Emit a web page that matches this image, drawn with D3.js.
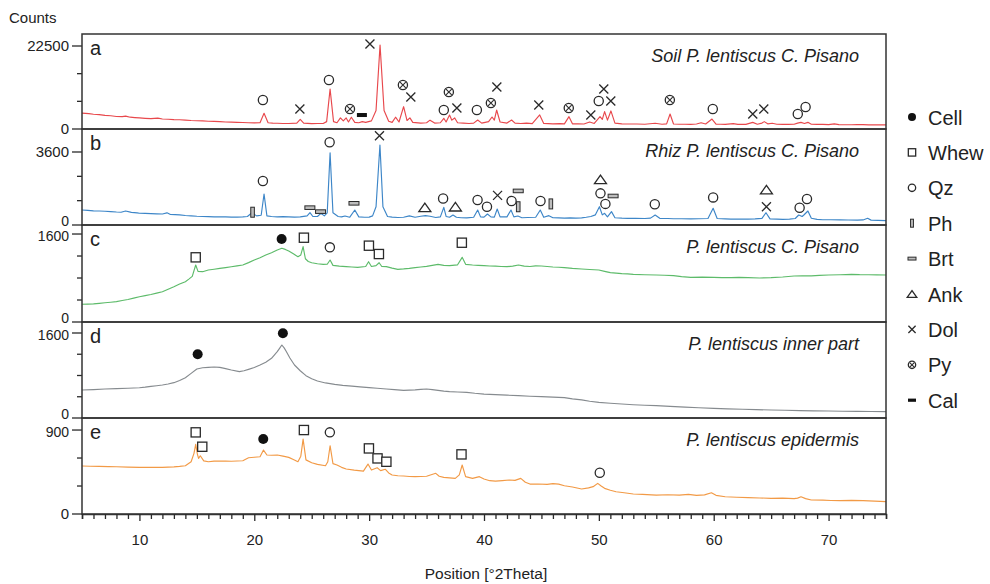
<!DOCTYPE html>
<html><head><meta charset="utf-8">
<script src="https://cdn.jsdelivr.net/npm/d3@7"></script>
<style>body{margin:0;background:#fff}svg{display:block;font-family:"Liberation Sans",Arial,sans-serif}</style>
</head><body><svg id="c" width="990" height="584"></svg>
<script>
// ---------------- DATA ----------------
const xTicks = [10, 20, 30, 40, 50, 60, 70];
const panelLetters = ["a", "b", "c", "d", "e"];
const panelTitles = ["Soil P. lentiscus C. Pisano", "Rhiz P. lentiscus C. Pisano", "P. lentiscus C. Pisano", "P. lentiscus inner part", "P. lentiscus epidermis"];
const yLabelTicks = [[0, 22500], [0, 3600], [0, 1600], [0, 1600], [0, 900]];
const yMinorStep = [7500, 1200, 400, 400, 300];
const legendNames = ["Cell", "Whew", "Qz", "Ph", "Brt", "Ank", "Dol", "Py", "Cal"];

// [2theta, counts]
const soil = [[5,4300],[5.3,4250],[5.6,4150],[6,4000],[6.5,3900],[7,3700],[7.5,3600],[8,3400],[8.5,3350],[8.8,3500],[9.2,3200],[9.6,3100],[10,3000],[10.5,2900],[11,2800],[11.6,2950],[12,2700],[12.5,2650],[13,2550],[13.5,2500],[14,2400],[14.5,2300],[15,2250],[15.5,2200],[16,2100],[16.5,2050],[17,2000],[17.5,1900],[18,1850],[18.5,1800],[19,1750],[19.5,1700],[20,1650],[20.5,1700],[20.85,4250],[21.2,1700],[21.6,1600],[22,1550],[22.5,1500],[23,1500],[23.7,1600],[24.0,2600],[24.3,1600],[25,1450],[25.5,1500],[26,1500],[26.3,2000],[26.6,10850],[26.9,2000],[27.2,1700],[27.5,3000],[27.75,2200],[28.0,3000],[28.2,1900],[28.45,3200],[28.75,1800],[29.1,1700],[29.4,2000],[29.7,1800],[30.2,2200],[30.6,5000],[30.95,22760],[31.3,5000],[31.7,2100],[32.0,1800],[32.3,3200],[32.6,1900],[33.0,6050],[33.3,2300],[33.55,3000],[33.8,1800],[34.5,1600],[35.0,1700],[35.3,2400],[35.7,1600],[36.2,1700],[36.5,2900],[36.7,1900],[37.0,3800],[37.2,2400],[37.45,3000],[37.7,1700],[38.2,1600],[38.7,1500],[39.1,1600],[39.45,2440],[39.8,1600],[40.4,2000],[40.7,3250],[40.9,2400],[41.1,5150],[41.4,1900],[42.0,1600],[42.4,2440],[42.7,1600],[43.2,1500],[43.7,1600],[44.2,1450],[44.85,3800],[45.2,1500],[45.6,1450],[46,1400],[46.6,1450],[47.0,1400],[47.4,3350],[47.7,1400],[48.2,1400],[48.7,1350],[49.2,1900],[49.6,1500],[50.1,3350],[50.3,2600],[50.5,4700],[50.75,2400],[51.05,4900],[51.4,1600],[52,1400],[52.6,1350],[53.3,1350],[54.0,1300],[54.9,1550],[55.5,1300],[55.9,1400],[56.2,4070],[56.5,1350],[57.0,1300],[57.5,1300],[58.0,1250],[58.5,1350],[58.9,1700],[59.3,1350],[59.85,2700],[60.2,1300],[60.6,1280],[61.0,1250],[61.7,1450],[62.1,1250],[62.8,1250],[63.4,1800],[63.8,1300],[64.2,1600],[64.4,2000],[64.7,1400],[65.1,1550],[65.5,1300],[66.0,1250],[66.5,1250],[67.0,1300],[67.3,1600],[67.6,1800],[67.9,1500],[68.2,1800],[68.5,1300],[69.0,1250],[69.5,1250],[70.0,1200],[70.5,1400],[70.9,1200],[71.5,1150],[72,1150],[72.5,1180],[73,1200],[73.5,1120],[74,1100],[74.5,1130],[75,1100]];

const rhiz = [[5,740],[5.5,720],[6,700],[6.5,690],[7,680],[7.5,660],[8,640],[8.4,630],[8.8,690],[9.3,620],[9.8,600],[10,580],[10.5,570],[11,560],[11.5,550],[12,540],[12.4,600],[12.7,520],[13.1,510],[13.5,500],[14,470],[14.5,450],[15,430],[15.5,420],[16,410],[16.5,400],[17,405],[17.5,400],[18,390],[18.5,390],[19,400],[19.4,420],[19.8,606],[20.2,450],[20.6,480],[20.85,1530],[21.1,450],[21.5,420],[22,400],[22.5,410],[23,400],[23.5,390],[24,400],[24.6,450],[24.85,606],[25.1,420],[25.5,420],[25.8,577],[26.1,450],[26.35,600],[26.6,3565],[26.85,600],[27.3,420],[27.6,400],[27.9,444],[28.3,380],[28.75,740],[29.1,400],[29.6,380],[30.0,390],[30.3,450],[30.6,900],[30.94,3944],[31.2,900],[31.6,420],[32.0,390],[32.5,370],[33.0,380],[33.5,450],[34.0,380],[34.5,430],[34.9,460],[35.3,430],[35.8,370],[36.2,400],[36.5,870],[36.7,420],[37.0,380],[37.3,493],[37.6,380],[38.0,360],[38.5,350],[39.1,380],[39.45,740],[39.7,400],[40.0,390],[40.3,542],[40.6,400],[40.9,390],[41.15,790],[41.4,400],[42.0,400],[42.35,740],[42.6,400],[42.95,444],[43.3,360],[43.8,370],[44.5,380],[44.9,740],[45.2,380],[45.65,460],[46,360],[46.5,350],[47,340],[47.5,350],[48,340],[48.5,350],[48.9,380],[49.3,420],[49.7,500],[50.05,903],[50.3,500],[50.5,577],[50.75,400],[51.1,660],[51.4,360],[52,340],[52.5,330],[53.2,330],[54,320],[54.5,340],[54.9,493],[55.3,330],[56,320],[56.5,310],[57.2,310],[58,300],[58.7,310],[59.5,320],[59.95,822],[60.3,320],[61,300],[61.5,290],[62.2,295],[63,290],[63.6,300],[64.2,330],[64.55,606],[64.9,300],[65.5,290],[66,280],[66.6,290],[67.1,320],[67.4,493],[67.7,420],[67.85,493],[68.2,690],[68.5,330],[69,280],[69.5,260],[70.2,260],[71,250],[71.7,245],[72.5,240],[73.0,250],[73.4,330],[73.7,240],[74.3,230],[75,215]];

const plant = [[5,322],[5.5,325],[6,330],[6.5,340],[7,350],[7.5,360],[8,370],[8.5,390],[9,410],[9.5,435],[10,460],[10.5,480],[11,500],[11.5,525],[12,551],[12.5,595],[13,640],[13.5,690],[14,733],[14.3,780],[14.6,830],[14.9,1036],[15.1,920],[15.5,915],[16,945],[16.5,960],[17,975],[17.5,990],[18,1005],[18.5,1020],[19,1036],[19.5,1080],[20,1127],[20.5,1170],[21,1218],[21.5,1260],[22,1309],[22.4,1340],[22.7,1320],[23,1290],[23.4,1240],[23.8,1187],[24.05,1220],[24.25,1370],[24.45,1150],[24.7,1100],[25,1078],[25.5,1060],[26,1048],[26.35,1050],[26.6,1127],[26.85,1030],[27.4,1015],[28,1006],[28.5,1000],[29,994],[29.7,1010],[29.95,1097],[30.2,1010],[30.6,1024],[30.87,1078],[31.1,1010],[31.5,1006],[32,980],[32.5,958],[33,965],[33.5,975],[34,988],[34.5,1000],[35,1012],[35.5,1030],[36,1048],[36.5,1030],[37,1024],[37.7,1040],[38.1,1176],[38.4,1048],[39,1036],[39.5,1030],[40,1024],[40.5,1018],[41,1015],[41.5,1010],[42,1006],[42.5,1015],[43,1036],[43.5,1015],[44,1010],[44.5,1020],[45,1018],[45.5,1010],[46,1000],[46.5,995],[47,988],[47.7,975],[48.5,964],[49.2,955],[50,945],[50.5,920],[51,897],[51.5,890],[52,880],[52.5,875],[53,867],[54,860],[55,855],[55.7,850],[56.5,843],[57.2,825],[58,812],[59,815],[60,812],[60.7,808],[61.5,806],[62.2,812],[63,806],[64,800],[65,806],[66,818],[67,836],[67.7,838],[68.5,840],[69.2,848],[70,855],[71,860],[72,867],[72.7,862],[73.5,860],[74.2,858],[75,855]];

const inner = [[5,527],[6,535],[7,545],[8,552],[9,560],[10,570],[10.5,580],[11,595],[11.5,607],[12,621],[12.5,640],[13,665],[13.5,705],[14,759],[14.5,840],[15,922],[15.5,945],[16,953],[16.5,960],[17,953],[17.5,930],[18,903],[18.7,872],[19.1,890],[19.5,916],[20,950],[20.5,997],[21,1050],[21.5,1123],[22,1248],[22.2,1310],[22.4,1374],[22.6,1320],[22.8,1248],[23.1,1130],[23.5,997],[24,890],[24.5,797],[25,740],[25.5,696],[26.2,660],[27,634],[27.7,615],[28.5,600],[29.2,585],[30,571],[30.7,560],[31.5,545],[32.2,535],[33,521],[33.5,525],[34,530],[34.5,538],[35,546],[35.5,535],[36,520],[36.5,505],[37,496],[37.7,490],[38.5,483],[39.2,465],[40,450],[41,440],[42,430],[43,420],[44,410],[45,402],[46,392],[47,383],[47.7,360],[48.5,340],[49.2,315],[50,295],[51,278],[52,263],[53,250],[54,240],[55,232],[56.2,220],[57.5,205],[58.7,192],[60,182],[61.2,173],[62.5,165],[63.7,158],[65,151],[66.2,145],[67.5,140],[68.7,135],[70,132],[71.2,128],[72.5,125],[73.7,122],[75,119]];

const epid = [[5,514],[5.7,512],[6.5,510],[7.3,508],[8,507],[9,503],[10,500],[11,500],[12,500],[12.5,502],[13,505],[13.5,510],[14,517],[14.5,560],[14.75,650],[14.9,746],[15.05,640],[15.15,596],[15.3,624],[15.6,570],[16,560],[16.5,566],[17,568],[17.5,566],[18,565],[18.5,568],[19,571],[19.5,603],[20,608],[20.5,614],[20.8,685],[21.1,632],[21.5,630],[22,632],[22.5,620],[23,607],[23.4,585],[23.8,560],[24.05,620],[24.25,803],[24.5,580],[25,550],[25.5,532],[26.2,517],[26.4,560],[26.6,732],[26.85,540],[27.2,525],[27.6,500],[28,482],[28.7,470],[29.5,460],[29.9,535],[30.2,471],[30.7,495],[31.0,465],[31.4,480],[31.7,440],[32,418],[32.5,410],[33,407],[33.5,402],[34,400],[34.5,402],[35,405],[35.8,436],[36.1,405],[36.5,393],[37,388],[37.5,382],[37.85,420],[38.1,525],[38.4,400],[39,382],[39.6,400],[40,375],[40.5,357],[41,353],[41.6,358],[42.2,364],[42.7,360],[43.2,382],[43.6,340],[44,321],[44.7,322],[45.5,318],[46,325],[46.5,320],[47,303],[47.7,290],[48.5,268],[49.1,280],[49.5,293],[49.9,328],[50.2,300],[50.5,275],[51,255],[51.5,239],[52.2,228],[53,214],[53.8,210],[55,203],[56,206],[57,202],[57.8,211],[58.5,200],[59.2,205],[59.8,228],[60.2,200],[61,185],[62,180],[63,175],[64,172],[65,168],[66,170],[67,165],[67.3,170],[67.6,185],[68,165],[68.5,150],[69.5,148],[70.2,145],[71,143],[72,146],[73,143],[74,138],[75,132]];

// markers: [mineral, 2theta, counts]
const markA = [["Qz",20.75,7860],["Dol",23.97,5420],["Qz",26.5,13280],["Py",28.33,5420],["Cal",29.37,3790],["Dol",30.07,23030],["Py",32.94,11920],["Dol",33.63,8670],["Qz",36.5,5150],["Py",36.94,10030],["Dol",37.64,5690],["Qz",39.38,5150],["Py",40.6,7050],["Dol",41.12,11380],["Dol",44.77,6500],["Py",47.38,5690],["Dol",49.3,3790],["Qz",49.99,7590],["Dol",50.43,10840],["Dol",51.04,7590],["Py",56.18,7860],["Qz",59.92,5420],["Dol",63.4,4070],["Dol",64.36,5420],["Qz",67.32,4070],["Qz",68.0,5960]];
const markB = [["Ph",19.85,630],["Qz",20.75,2170],["Brt",24.84,855],["Brt",25.77,660],["Qz",26.56,4080],["Brt",28.68,1070],["Dol",30.9,4400],["Ank",34.85,870],["Qz",36.44,1310],["Ank",37.51,900],["Qz",39.44,1230],["Qz",40.26,900],["Dol",41.18,1460],["Brt",42.98,1680],["Qz",42.4,1180],["Ph",42.98,900],["Qz",44.92,1180],["Ph",45.82,1040],["Ank",50.14,2250],["Qz",50.14,1560],["Brt",51.24,1430],["Qz",50.57,1040],["Qz",54.87,1020],["Qz",59.95,1360],["Ank",64.59,1740],["Dol",64.59,900],["Qz",67.48,850],["Qz",68.12,1280]];
const markC = [["Whew",14.9,1176],["Cell",22.38,1509],["Whew",24.32,1533],["Qz",26.58,1358],["Whew",29.98,1388],["Whew",30.85,1236],["Whew",38.07,1442]];
const markD = [["Cell",15.07,1199],["Cell",22.49,1594]];
const markE = [["Whew",14.9,875],["Whew",15.47,721],["Cell",20.78,803],["Whew",24.32,900],["Qz",26.58,875],["Whew",29.98,703],["Whew",30.73,596],["Whew",31.5,560],["Whew",38.04,639],["Qz",50.08,442]];

// ---------------- LAYOUT ----------------
const series = [soil, rhiz, plant, inner, epid];
const markers = [markA, markB, markC, markD, markE];
const colors = ["#e8484c", "#3d86c8", "#5dbb6a", "#868b8f", "#f29a46"];
const bands = [[34,129],[129,225],[225,322],[322,418],[418,514]];
const yMax = [25753, 4734, 1764, 1807, 1029];
const X0 = 82, X1 = 886;

const svg = d3.select("#c");
const x = d3.scaleLinear().domain([5, 75]).range([X0, X1]);
const ink = "#2a2a2a";

function symbol(g, type, cx, cy, s) {
  const sw = 1.3;
  if (type === "Cell") {
    g.append("circle").attr("cx", cx).attr("cy", cy).attr("r", 5 * s).attr("fill", "#111");
  } else if (type === "Whew") {
    const h = 4.6 * s;
    g.append("rect").attr("x", cx - h).attr("y", cy - h).attr("width", 2 * h).attr("height", 2 * h)
      .attr("fill", "#fff").attr("stroke", ink).attr("stroke-width", sw);
  } else if (type === "Qz") {
    g.append("circle").attr("cx", cx).attr("cy", cy).attr("r", 4.6 * s)
      .attr("fill", "#fff").attr("stroke", ink).attr("stroke-width", sw);
  } else if (type === "Ph") {
    g.append("rect").attr("x", cx - 1.8 * s).attr("y", cy - 5 * s).attr("width", 3.6 * s).attr("height", 10 * s)
      .attr("fill", "#bdbdbd").attr("stroke", ink).attr("stroke-width", 1);
  } else if (type === "Brt") {
    g.append("rect").attr("x", cx - 5 * s).attr("y", cy - 1.8 * s).attr("width", 10 * s).attr("height", 3.6 * s)
      .attr("fill", "#bdbdbd").attr("stroke", ink).attr("stroke-width", 1);
  } else if (type === "Ank") {
    const w = 6 * s, h = 8.5 * s;
    g.append("path").attr("d", `M${cx - w},${cy + h / 2}L${cx + w},${cy + h / 2}L${cx},${cy - h / 2}Z`)
      .attr("fill", "#fff").attr("stroke", ink).attr("stroke-width", sw);
  } else if (type === "Dol") {
    const h = 4.5 * s;
    g.append("path").attr("d", `M${cx - h},${cy - h}L${cx + h},${cy + h}M${cx - h},${cy + h}L${cx + h},${cy - h}`)
      .attr("stroke", ink).attr("stroke-width", sw).attr("fill", "none");
  } else if (type === "Py") {
    const r = 4.6 * s, h = r * 0.62;
    g.append("circle").attr("cx", cx).attr("cy", cy).attr("r", r)
      .attr("fill", "#fff").attr("stroke", ink).attr("stroke-width", sw);
    g.append("path").attr("d", `M${cx - h},${cy - h}L${cx + h},${cy + h}M${cx - h},${cy + h}L${cx + h},${cy - h}`)
      .attr("stroke", ink).attr("stroke-width", 1.1);
  } else if (type === "Cal") {
    g.append("rect").attr("x", cx - 5 * s).attr("y", cy - 2 * s).attr("width", 10 * s).attr("height", 4 * s)
      .attr("fill", "#111");
  }
}

series.forEach((data, i) => {
  const [top, bot] = bands[i];
  const y = d3.scaleLinear().domain([0, yMax[i]]).range([bot, top]);
  const g = svg.append("g");
  g.append("path").datum(data)
    .attr("d", d3.line().x(d => x(d[0])).y(d => y(d[1])))
    .attr("fill", "none").attr("stroke", colors[i]).attr("stroke-width", 1.15).attr("stroke-linejoin", "round");
  markers[i].forEach(m => symbol(g, m[0], x(m[1]), y(m[2]), 1));
  const minor = d3.range(0, yLabelTicks[i][1] + 1, yMinorStep[i]);
  minor.forEach(v => {
    const major = yLabelTicks[i].includes(v);
    g.append("line").attr("x1", X0 - (major ? 10 : 5)).attr("x2", X0).attr("y1", y(v)).attr("y2", y(v))
      .attr("stroke", ink).attr("stroke-width", 1.3);
  });
  yLabelTicks[i].forEach((v, k) => {
    // zero labels sitting just above the next panel's top label are nudged up to stay clear of it
    let shift = 0;
    if (k === 0 && i > 0 && i < 4) shift = -4;
    if (k === 1 && i > 1) shift = 2;
    g.append("text").attr("x", 69).attr("y", y(v) + shift).attr("dy", "0.36em").attr("text-anchor", "end")
      .attr("font-size", (shift !== 0) ? 14 : 15).attr("fill", "#222").text(d3.format("d")(v));
  });
  g.append("text").attr("x", 90).attr("y", top + 21).attr("font-size", 20).attr("fill", "#222").text(panelLetters[i]);
  g.append("text").attr("x", 859).attr("y", top + 28).attr("text-anchor", "end").attr("font-size", 18)
    .attr("font-style", "italic").attr("fill", "#222").text(panelTitles[i]);
  g.append("rect").attr("x", X0).attr("y", top).attr("width", X1 - X0).attr("height", bot - top)
    .attr("fill", "none").attr("stroke", "#333").attr("stroke-width", 1.5);
});

const xAxis = d3.axisBottom(x).tickValues(d3.range(5, 76, 1)).tickSize(5).tickFormat(d => xTicks.includes(d) ? d : "");
const ax = svg.append("g").attr("transform", `translate(0,${bands[4][1]})`).call(xAxis);
ax.select(".domain").attr("stroke", "#333").attr("stroke-width", 1.5);
ax.selectAll(".tick line").attr("stroke", ink).attr("stroke-width", 1.3).attr("y2", d => xTicks.includes(d) ? 7 : 5);
ax.selectAll(".tick text").attr("font-size", 15).attr("fill", "#222").attr("y", 20)
  .attr("font-family", '"Liberation Sans",Arial,sans-serif');

svg.append("text").attr("x", 486).attr("y", 579).attr("text-anchor", "middle").attr("font-size", 15.5)
  .attr("fill", "#222").text("Position [°2Theta]");
svg.append("text").attr("x", 9).attr("y", 23).attr("font-size", 15).attr("fill", "#222").text("Counts");

legendNames.forEach((n, i) => {
  const cy = 117 + i * 35.4;
  symbol(svg, n, 912, cy, 0.8);
  svg.append("text").attr("x", 928).attr("y", cy + 7.5).attr("font-size", 20).attr("fill", "#222").text(n);
});
</script></body></html>
